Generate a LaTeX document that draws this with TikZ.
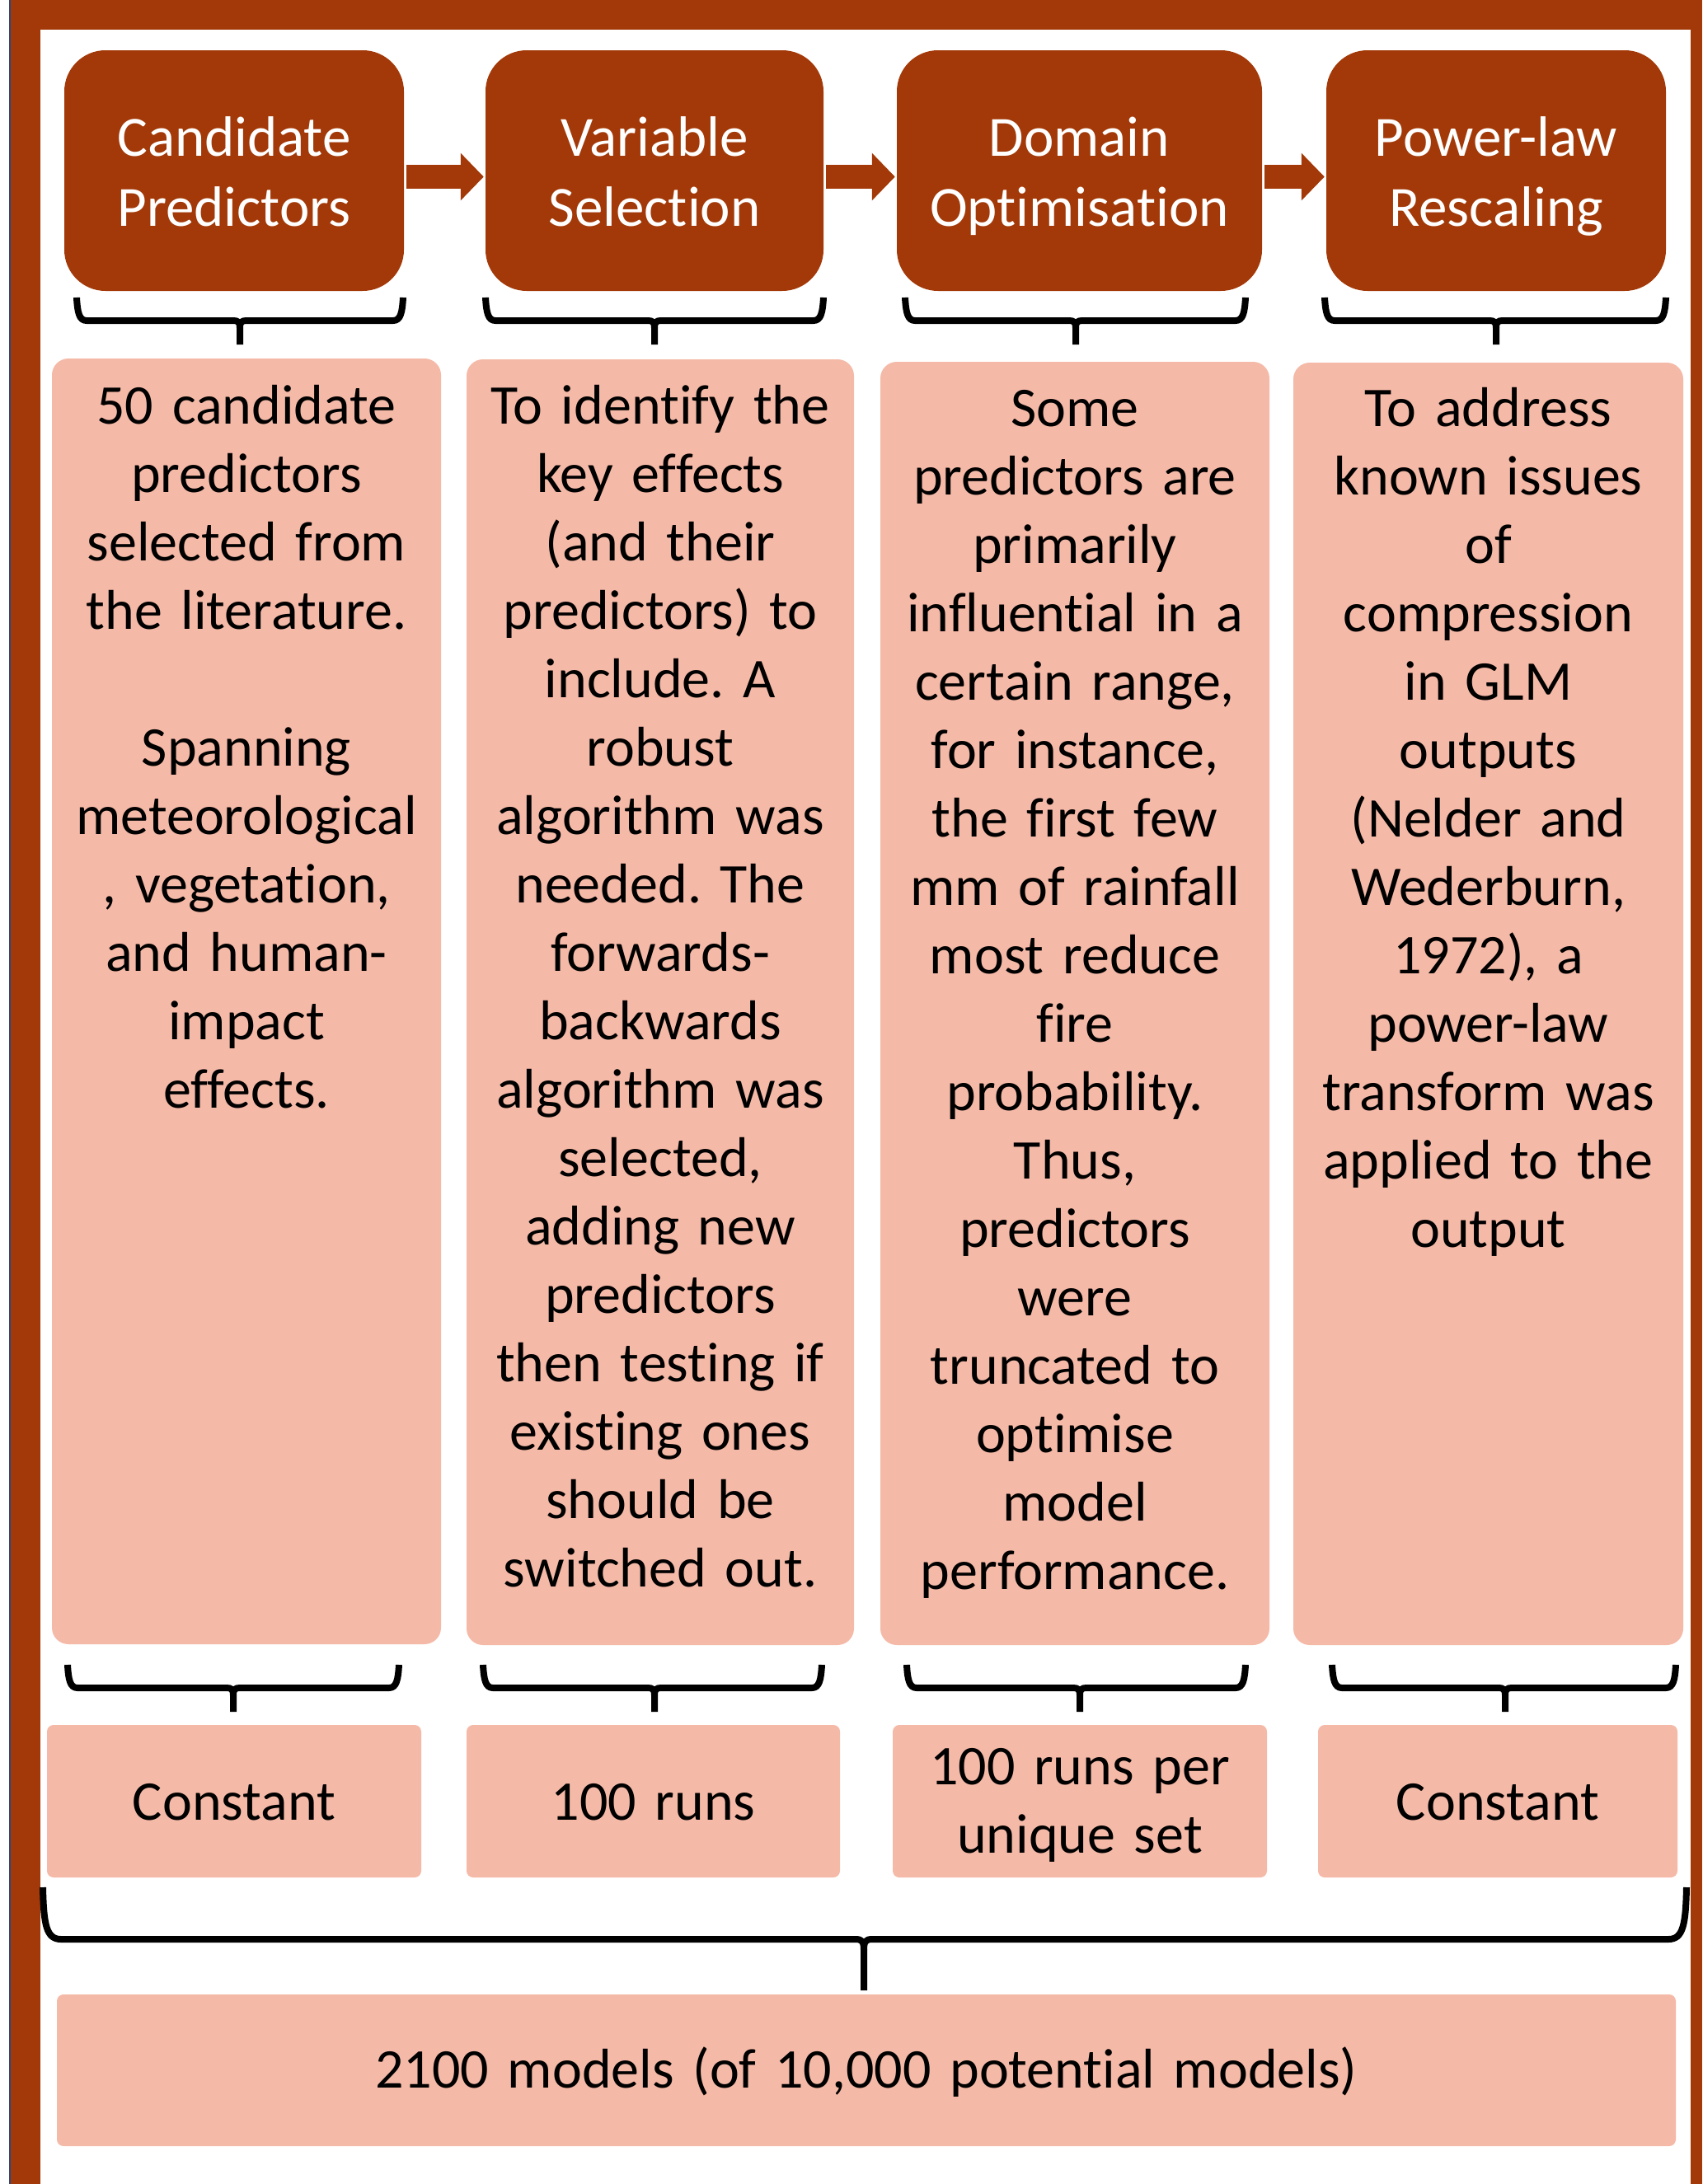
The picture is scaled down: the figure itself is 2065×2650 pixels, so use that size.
\documentclass[tikz,border=0pt]{standalone}
\usepackage{fontspec}
\setmainfont{Carlito}[Ligatures=CommonOff]
\usetikzlibrary{arrows.meta}
\definecolor{dark}{RGB}{163,57,8}
\definecolor{salmon}{RGB}{245,185,167}
\definecolor{edgeblue}{RGB}{47,72,120}
\frenchspacing
\newcommand\flowbrace[6]{% L R M T H B
  \draw[brc] (#1,#4) .. controls (#1+1,#5-10) and (#1+3,#5) .. (#1+12,#5) -- (#3-8,#5) .. controls (#3-2,#5) and (#3,#5+2) .. (#3,#5+9) -- (#3,#6);
  \draw[brc] (#2,#4) .. controls (#2-1,#5-10) and (#2-3,#5) .. (#2-12,#5) -- (#3+8,#5) .. controls (#3+2,#5) and (#3,#5+2) .. (#3,#5+9);
}
\begin{document}
\begin{tikzpicture}[x=1pt,y=-1pt,
  topbox/.style={fill=dark, rounded corners=50pt, minimum height=292pt, inner sep=0pt},
  midbox/.style={fill=salmon, rounded corners=20pt, inner sep=0pt},
  lowbox/.style={fill=salmon, rounded corners=8pt, inner sep=0pt},
  toptxt/.style={anchor=north, inner sep=0pt, align=center, text width=400pt, text=white, font=\fontsize{69}{85}\selectfont},
  bodytxt/.style={anchor=north, inner sep=0pt, align=center, text width=#1, font=\fontsize{68}{83}\selectfont},
  bodytxt/.default=460pt,
  flow/.style={draw=dark, line width=29pt, -{Triangle[width=56pt,length=28pt]}, shorten <=3pt, shorten >=2pt},
  brc/.style={draw=black, line width=8pt, line join=round}
]
\useasboundingbox (0,0) rectangle (2065,2650);
% frame
\fill[white] (0,0) rectangle (2065,2650);
\fill[dark] (13,0) rectangle (2065,2650);
\fill[white] (49,36) rectangle (2051,2650);
\draw[edgeblue, line width=2pt] (12,0) -- (12,2650);

% top step boxes
\node[topbox, minimum width=412pt] (t1) at (284,207) {};
\node[topbox, minimum width=410pt] (t2) at (794,207) {};
\node[topbox, minimum width=443pt] (t3) at (1309.5,207) {};
\node[topbox, minimum width=412pt] (t4) at (1815,207) {};
\node[toptxt] (t1txt) at (284,129.5) {\strut Candidate\\Predictors};
\node[toptxt] (t2txt) at (794,129.5) {\strut Variable\\Selection};
\node[toptxt] (t3txt) at (1309.5,129.5) {\strut Domain\\Optimisation};
\node[toptxt] (t4txt) at (1815,129.5) {\strut Power-law\\Rescaling};

% arrows
\draw[flow] ([yshift=-7.5pt]t1.east) -- ([yshift=-7.5pt]t2.west);
\draw[flow] ([yshift=-7.5pt]t2.east) -- ([yshift=-7.5pt]t3.west);
\draw[flow] ([yshift=-7.5pt]t3.east) -- ([yshift=-7.5pt]t4.west);

% braces below top boxes
\flowbrace{93}{489}{291}{361}{389}{418}
\flowbrace{589}{999}{794}{361}{389}{418}
\flowbrace{1098}{1511}{1305}{361}{389}{418}
\flowbrace{1607}{2021}{1815}{361}{389}{418}

% middle description boxes
\node[midbox, minimum width=472pt, minimum height=1560pt] (m1) at (299,1215) {};
\node[midbox, minimum width=470pt, minimum height=1560pt] (m2) at (801,1216) {};
\node[midbox, minimum width=472pt, minimum height=1557pt] (m3) at (1304,1217.5) {};
\node[midbox, minimum width=473pt, minimum height=1556pt] (m4) at (1805.5,1218) {};

\node[bodytxt] (m1txt) at (299,455.9) {\strut 50 candidate\\ predictors\\ selected from\\ the literature.\\[83pt] Spanning\\ meteorological\\ , vegetation,\\ and human-\\ impact\\ effects.};
\node[bodytxt] (m2txt) at (801,455.9) {\strut To identify the\\ key effects\\ (and their\\ predictors) to\\ include. A\\ robust\\ algorithm was\\ needed. The\\ forwards-\\ backwards\\ algorithm was\\ selected,\\ adding new\\ predictors\\ then testing if\\ existing ones\\ should be\\ switched out.};
\node[bodytxt] (m3txt) at (1304,458.9) {\strut Some\\ predictors are\\ primarily\\ influential in a\\ certain range,\\ for instance,\\ the first few\\ mm of rainfall\\ most reduce\\ fire\\ probability.\\ Thus,\\ predictors\\ were\\ truncated to\\ optimise\\ model\\ performance.};
\node[bodytxt] (m4txt) at (1805.5,458.9) {\strut To address\\ known issues\\ of\\ compression\\ in GLM\\ outputs\\ (Nelder and\\ Wederburn,\\ 1972), a\\ power-law\\ transform was\\ applied to the\\ output};

% braces below middle boxes
\flowbrace{82}{484}{283}{2020}{2048}{2077}
\flowbrace{586}{997}{794}{2020}{2048}{2077}
\flowbrace{1100}{1511}{1310}{2020}{2048}{2077}
\flowbrace{1616}{2033}{1826}{2020}{2048}{2077}

% lower run boxes
\node[lowbox, minimum width=454pt, minimum height=185pt] (s1) at (284,2185.5) {};
\node[lowbox, minimum width=453pt, minimum height=185pt] (s2) at (792.5,2185.5) {};
\node[lowbox, minimum width=454pt, minimum height=185pt] (s3) at (1310,2185.5) {};
\node[lowbox, minimum width=436pt, minimum height=185pt] (s4) at (1817,2185.5) {};
\node[bodytxt] (s1txt) at (284,2149.9) {\strut Constant};
\node[bodytxt] (s2txt) at (792.5,2149.9) {\strut 100 runs};
\node[bodytxt] (s3txt) at (1310,2106.9) {\strut 100 runs per\\ unique set};
\node[bodytxt] (s4txt) at (1817,2149.9) {\strut Constant};

% big brace
\draw[brc] (52,2290) .. controls (53,2335) and (56,2353) .. (74,2353) -- (1038,2353) .. controls (1046,2353) and (1048,2356) .. (1048,2366) -- (1048,2415);
\draw[brc] (2046,2290) .. controls (2045,2335) and (2042,2353) .. (2024,2353) -- (1058,2353) .. controls (1050,2353) and (1048,2356) .. (1048,2366);

% total box
\node[lowbox, minimum width=1964pt, minimum height=184pt] (tot) at (1051,2512) {};
\node[bodytxt=1900pt] (tottxt) at (1051,2474.9) {\strut 2100 models (of 10,000 potential models)};
\end{tikzpicture}
\end{document}
